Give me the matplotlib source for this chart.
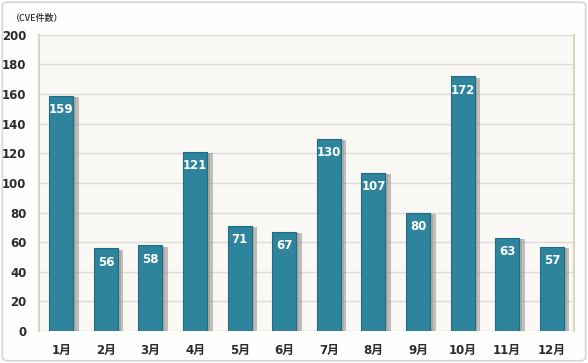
import matplotlib.pyplot as plt
import matplotlib.patheffects as pe
from matplotlib.patches import FancyBboxPatch

plt.rcParams['font.family'] = ['DejaVu Sans', 'Noto Sans CJK JP']

months = ['1月', '2月', '3月', '4月', '5月', '6月', '7月', '8月', '9月', '10月', '11月', '12月']
cve_counts = [159, 56, 58, 121, 71, 67, 130, 107, 80, 172, 63, 57]
y_ticks = [0, 20, 40, 60, 80, 100, 120, 140, 160, 180, 200]

bar_color = '#2e849c'
edge_color = '#1f6d85'
text_color = '#2b2b2b'

fig = plt.figure(figsize=(5.88, 3.63), dpi=100)
fig.patch.set_facecolor('white')

# outer rounded border, kept behind the axes
border = FancyBboxPatch((0.004, 0.006), 0.992, 0.988, boxstyle='round,pad=0,rounding_size=0.01',
                        transform=fig.transFigure, facecolor='#fefefc', edgecolor='#d6d6d6', lw=1.2,
                        zorder=-10)
fig.patches.append(border)

ax = fig.add_axes([0.0663, 0.088, 0.910, 0.816])
ax.set_facecolor('#f9f8f4')

x = range(len(months))
bars = ax.bar(x, cve_counts, width=0.54, color=bar_color, edgecolor=edge_color, linewidth=0.8, zorder=3)
for b in bars:
    b.set_path_effects([pe.SimplePatchShadow(offset=(4, -1), shadow_rgbFace='#8a8580', alpha=0.5),
                        pe.SimplePatchShadow(offset=(2, -1), shadow_rgbFace='#8a8580', alpha=0.35),
                        pe.Normal()])

for i, v in enumerate(cve_counts):
    ax.annotate(str(v), (i, v), xytext=(0, -14), textcoords='offset pixels',
                ha='center', va='center', color='white', fontsize=8.5, fontweight='bold', zorder=4)

ax.set_xlim(-0.5, len(months) - 0.5)
ax.set_ylim(0, 200)
ax.set_yticks(y_ticks)
ax.set_xticks(list(x))
ax.set_xticklabels(months)
ax.grid(axis='y', color='#dedcd8', linewidth=1.0, zorder=0)
ax.set_axisbelow(True)

for lab in ax.get_yticklabels() + ax.get_xticklabels():
    lab.set_fontweight('bold')
    lab.set_color(text_color)
    lab.set_fontsize(8.5)
ax.tick_params(axis='both', length=0)
ax.tick_params(axis='y', pad=9)
ax.tick_params(axis='x', pad=9)

for s in ['top', 'bottom']:
    ax.spines[s].set_visible(False)
ax.spines['left'].set_color('#d8d6bf')
ax.spines['right'].set_color('#d8d6bf')
ax.spines['left'].set_linewidth(1.5)
ax.spines['right'].set_linewidth(1.5)

fig.text(0.018, 0.950, '（CVE件数）', fontsize=6.5, color=text_color, va='center', ha='left',
         fontweight='medium', family=['Noto Sans CJK JP', 'DejaVu Sans'])

fig.savefig('out.png', dpi=100)
